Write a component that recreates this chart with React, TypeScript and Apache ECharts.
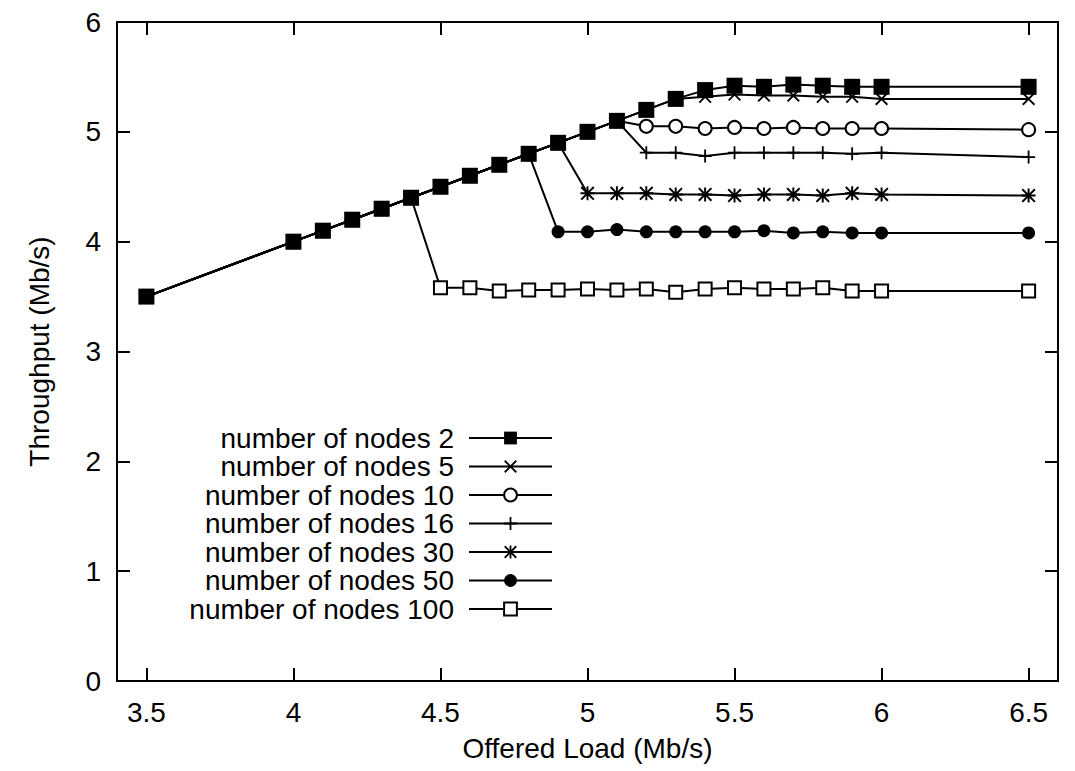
import React, { useEffect, useRef } from "react";
import * as echarts from "echarts";

// Offered load (Mb/s) sample points
const offeredLoad = [3.5, 4.0, 4.1, 4.2, 4.3, 4.4, 4.5, 4.6, 4.7, 4.8, 4.9, 5.0, 5.1, 5.2, 5.3, 5.4, 5.5, 5.6, 5.7, 5.8, 5.9, 6.0, 6.5];

// Throughput (Mb/s) per number of nodes
const nodes2 = [3.5, 4.0, 4.1, 4.2, 4.3, 4.4, 4.5, 4.6, 4.7, 4.8, 4.9, 5.0, 5.1, 5.2, 5.3, 5.38, 5.42, 5.41, 5.43, 5.42, 5.41, 5.41, 5.41];
const nodes5 = [3.5, 4.0, 4.1, 4.2, 4.3, 4.4, 4.5, 4.6, 4.7, 4.8, 4.9, 5.0, 5.1, 5.2, 5.3, 5.32, 5.34, 5.33, 5.33, 5.32, 5.32, 5.3, 5.3];
const nodes10 = [3.5, 4.0, 4.1, 4.2, 4.3, 4.4, 4.5, 4.6, 4.7, 4.8, 4.9, 5.0, 5.1, 5.05, 5.05, 5.03, 5.04, 5.03, 5.04, 5.03, 5.03, 5.03, 5.02];
const nodes16 = [3.5, 4.0, 4.1, 4.2, 4.3, 4.4, 4.5, 4.6, 4.7, 4.8, 4.9, 5.0, 5.1, 4.81, 4.81, 4.78, 4.81, 4.81, 4.81, 4.81, 4.8, 4.81, 4.77];
const nodes30 = [3.5, 4.0, 4.1, 4.2, 4.3, 4.4, 4.5, 4.6, 4.7, 4.8, 4.9, 4.44, 4.44, 4.44, 4.43, 4.43, 4.42, 4.43, 4.43, 4.42, 4.44, 4.43, 4.42];
const nodes50 = [3.5, 4.0, 4.1, 4.2, 4.3, 4.4, 4.5, 4.6, 4.7, 4.8, 4.09, 4.09, 4.11, 4.09, 4.09, 4.09, 4.09, 4.1, 4.08, 4.09, 4.08, 4.08, 4.08];
const nodes100 = [3.5, 4.0, 4.1, 4.2, 4.3, 4.4, 3.58, 3.58, 3.55, 3.56, 3.56, 3.57, 3.56, 3.57, 3.54, 3.57, 3.58, 3.57, 3.57, 3.58, 3.55, 3.55, 3.55];

const seriesNames = [
  "number of nodes 2",
  "number of nodes 5",
  "number of nodes 10",
  "number of nodes 16",
  "number of nodes 30",
  "number of nodes 50",
  "number of nodes 100",
];

const xTicks = [3.5, 4, 4.5, 5, 5.5, 6, 6.5];
const yTicks = [0, 1, 2, 3, 4, 5, 6];

const CROSS = "path://M0,2L2,0L10,8L18,0L20,2L12,10L20,18L18,20L10,12L2,20L0,18L8,10Z";
const PLUS = "path://M8.6,0H11.4V8.6H20V11.4H11.4V20H8.6V11.4H0V8.6H8.6Z";
const STAR =
  "path://M8.6,0H11.4V8.6H20V11.4H11.4V20H8.6V11.4H0V8.6H8.6Z M0,2L2,0L10,8L18,0L20,2L12,10L20,18L18,20L10,12L2,20L0,18L8,10Z";

const FONT = "'Liberation Sans', Arial, Helvetica, sans-serif";

export default function App() {
  const ref = useRef<HTMLDivElement>(null);

  useEffect(() => {
    document.body.style.margin = "0";
    if (!ref.current) return;
    const chart = echarts.init(ref.current, null, { renderer: "svg" });

    const valueSets = [nodes2, nodes5, nodes10, nodes16, nodes30, nodes50, nodes100];
    const symbols: any[] = ["rect", CROSS, "emptyCircle", PLUS, STAR, "circle", "emptyRect"];
    const sizes = [16, 13, 13, 13, 14, 13, 13];

    const series = valueSets.map((vals, i) => ({
      name: seriesNames[i],
      type: "line",
      data: offeredLoad.map((x, j) => [x, vals[j]]),
      symbol: symbols[i],
      symbolSize: sizes[i],
      showAllSymbol: true,
      z: i === 0 ? 5 : 3,
      lineStyle: { color: "#000", width: 2 },
      itemStyle: { color: "#000", borderWidth: symbols[i].startsWith("empty") ? 2 : 0 },
      emphasis: { disabled: true },
    }));

    const tickStyle = { lineStyle: { color: "#000", width: 2 } };

    chart.setOption({
      animation: false,
      backgroundColor: "#fff",
      textStyle: { fontFamily: FONT, color: "#000" },
      grid: { left: 117, right: 17, top: 22, bottom: 90 },
      legend: {
        orient: "vertical",
        align: "right",
        right: 522,
        top: 424,
        padding: 0,
        itemGap: 0.5,
        itemWidth: 83,
        itemHeight: 16,
        selectedMode: false,
        textStyle: { fontFamily: FONT, fontSize: 28, color: "#000", lineHeight: 28, padding: [0, 10, 0, 0] },
        data: seriesNames,
      },
      xAxis: [
        {
          type: "value",
          position: "bottom",
          min: 3.4,
          max: 6.6,
          name: "Offered Load (Mb/s)",
          nameLocation: "middle",
          nameGap: 53,
          nameTextStyle: { fontFamily: FONT, fontSize: 28, color: "#000" },
          axisLine: { onZero: false, lineStyle: { color: "#000", width: 2 } },
          axisTick: { inside: true, length: 13, customValues: xTicks, ...tickStyle },
          axisLabel: { customValues: xTicks, margin: 17, fontFamily: FONT, fontSize: 28, color: "#000" },
          splitLine: { show: false },
        },
        {
          type: "value",
          position: "top",
          min: 3.4,
          max: 6.6,
          axisLine: { onZero: false, lineStyle: { color: "#000", width: 2 } },
          axisTick: { inside: true, length: 13, customValues: xTicks, ...tickStyle },
          axisLabel: { show: false },
          splitLine: { show: false },
        },
      ],
      yAxis: [
        {
          type: "value",
          position: "left",
          min: 0,
          max: 6,
          interval: 1,
          name: "Throughput (Mb/s)",
          nameLocation: "middle",
          nameRotate: 90,
          nameGap: 64,
          nameTextStyle: { fontFamily: FONT, fontSize: 28, color: "#000" },
          axisLine: { show: true, onZero: false, lineStyle: { color: "#000", width: 2 } },
          axisTick: { show: true, inside: true, length: 13, customValues: yTicks, ...tickStyle },
          axisLabel: { customValues: yTicks, margin: 16, fontFamily: FONT, fontSize: 28, color: "#000" },
          splitLine: { show: false },
        },
        {
          type: "value",
          position: "right",
          min: 0,
          max: 6,
          interval: 1,
          axisLine: { show: true, onZero: false, lineStyle: { color: "#000", width: 2 } },
          axisTick: { show: true, inside: true, length: 13, customValues: yTicks, ...tickStyle },
          axisLabel: { show: false },
          splitLine: { show: false },
        },
      ],
      series,
    });

    return () => chart.dispose();
  }, []);

  return <div ref={ref} style={{ width: 1075, height: 771 }} />;
}
